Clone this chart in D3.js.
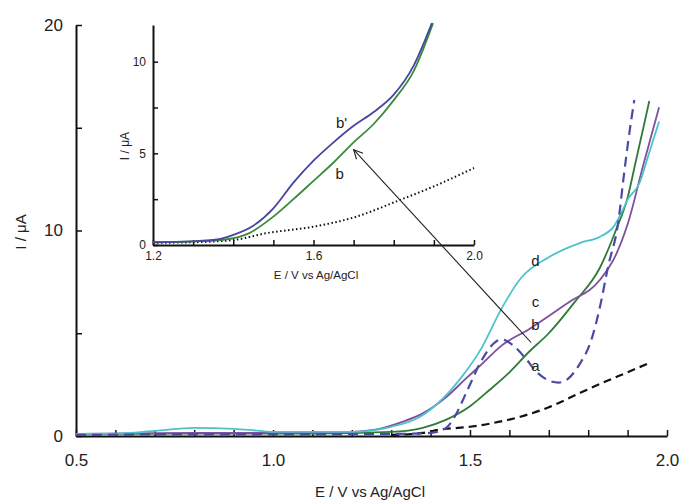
<!DOCTYPE html>
<html>
<head>
<meta charset="utf-8">
<script src="https://cdn.jsdelivr.net/npm/d3@7"></script>
<style>
  body { margin: 0; background: #fff; }
  svg { font-family: "Liberation Sans", Arial, sans-serif; }
</style>
</head>
<body>
<div id="chart"></div>
<script>
// main plot: [E (V), I (uA)]
const curveA = [[1.30,0.05],[1.38,0.15],[1.42,0.3],[1.5,0.45],[1.55,0.6],[1.63,0.95],[1.7,1.4],[1.78,2.1],[1.85,2.7],[1.9,3.1],[1.96,3.6]];
const curveBlueDash = [[0.5,0.05],[0.8,0.08],[1.1,0.08],[1.3,0.1],[1.4,0.15],[1.44,0.4],[1.46,0.9],[1.495,2.3],[1.53,3.7],[1.56,4.5],[1.58,4.7],[1.61,4.4],[1.64,3.8],[1.67,3.1],[1.7,2.7],[1.725,2.6],[1.75,2.8],[1.775,3.4],[1.81,4.8],[1.83,6.3],[1.85,8.2],[1.877,10.5],[1.89,12.6],[1.902,14.4],[1.917,16.35]];
const curveB = [[0.5,0.1],[0.8,0.12],[1.1,0.12],[1.3,0.2],[1.38,0.4],[1.44,0.8],[1.5,1.45],[1.55,2.25],[1.6,3.1],[1.65,4.1],[1.7,5.0],[1.765,6.5],[1.83,8.2],[1.87,10.0],[1.9,11.6],[1.92,13.3],[1.94,15.0],[1.955,16.3]];
const curveC = [[0.5,0.1],[0.8,0.15],[1.1,0.15],[1.2,0.2],[1.27,0.35],[1.33,0.7],[1.38,1.1],[1.44,1.9],[1.49,2.8],[1.53,3.5],[1.58,4.4],[1.65,5.2],[1.75,6.5],[1.83,7.6],[1.87,8.8],[1.9,10.3],[1.94,13.2],[1.98,16.0]];
const curveD = [[0.5,0.1],[0.6,0.12],[0.7,0.25],[0.8,0.4],[0.9,0.35],[0.95,0.28],[1.0,0.2],[1.2,0.2],[1.3,0.45],[1.37,0.9],[1.43,1.8],[1.48,2.9],[1.53,4.3],[1.58,6.2],[1.63,7.7],[1.7,8.7],[1.78,9.4],[1.83,9.7],[1.865,10.2],[1.885,10.9],[1.9,11.5],[1.93,12.3],[1.955,13.8],[1.98,15.3]];

// inset: [E (V), I (uA)]
const insetBPrime = [[1.2,0.15],[1.3,0.2],[1.36,0.3],[1.4,0.55],[1.45,1.05],[1.5,2.0],[1.55,3.4],[1.6,4.6],[1.65,5.6],[1.7,6.5],[1.75,7.25],[1.8,8.2],[1.85,9.8],[1.895,12.1]];
const insetB = [[1.2,0.15],[1.3,0.2],[1.38,0.3],[1.44,0.65],[1.5,1.55],[1.55,2.5],[1.6,3.5],[1.65,4.5],[1.7,5.6],[1.75,6.6],[1.8,7.9],[1.85,9.5],[1.898,12.1]];
const insetBlank = [[1.2,0.12],[1.3,0.15],[1.4,0.27],[1.484,0.65],[1.6,1.0],[1.7,1.5],[1.816,2.46],[1.9,3.2],[2.0,4.2]];

const mainXTicks = [0.5,0.6,0.7,0.8,0.9,1.0,1.1,1.2,1.3,1.4,1.5,1.6,1.7,1.8,1.9,2.0];
const mainXLabels = [0.5,1.0,1.5,2.0];
const mainYTicks = [0,5,10,15,20];
const mainYLabels = [0,10,20];
const insetXTicks = [1.2,1.3,1.4,1.5,1.6,1.7,1.8,1.9,2.0];
const insetXLabels = [1.2,1.6,2.0];
const insetYTicks = [0,2.5,5,7.5,10];
const insetYLabels = [0,5,10];

const width = 683, height = 504;
const svg = d3.select("#chart").append("svg")
  .attr("width", width).attr("height", height);

const x = d3.scaleLinear().domain([0.5, 2.0]).range([76, 667]);
const y = d3.scaleLinear().domain([0, 20]).range([436, 25]);
const xi = d3.scaleLinear().domain([1.2, 2.0]).range([153, 474]);
const yi = d3.scaleLinear().domain([0, 12]).range([245, 25]);

function styleAxis(g, size) {
  g.select(".domain").attr("stroke", "#111").attr("stroke-width", 2);
  g.selectAll(".tick line").attr("stroke", "#111").attr("stroke-width", 1.5);
  g.selectAll("text").attr("fill", "#222").attr("font-size", size);
}

// main axes
svg.append("g")
  .attr("transform", "translate(0,436)")
  .call(d3.axisBottom(x).tickValues(mainXTicks).tickSizeInner(-6).tickSizeOuter(0).tickPadding(18)
    .tickFormat(d => mainXLabels.some(v => Math.abs(v - d) < 1e-9) ? d3.format(".1f")(d) : ""))
  .call(g => styleAxis(g, 17));

svg.append("g")
  .attr("transform", "translate(76,0)")
  .call(d3.axisLeft(y).tickValues(mainYTicks).tickSizeInner(-6).tickSizeOuter(0).tickPadding(13)
    .tickFormat(d => mainYLabels.includes(d) ? d : ""))
  .call(g => styleAxis(g, 17));

svg.append("text")
  .attr("x", 370).attr("y", 493)
  .attr("text-anchor", "middle").attr("dominant-baseline", "middle")
  .attr("font-size", 15).attr("fill", "#222")
  .text("E / V vs Ag/AgCl");

svg.append("text")
  .attr("transform", "translate(22,232) rotate(-90)")
  .attr("text-anchor", "middle").attr("dominant-baseline", "middle")
  .attr("font-size", 15).attr("fill", "#222")
  .text("I / μA");

const line = d3.line().x(d => x(d[0])).y(d => y(d[1])).curve(d3.curveMonotoneX);
const linei = d3.line().x(d => xi(d[0])).y(d => yi(d[1])).curve(d3.curveMonotoneX);

const mainSeries = [
  { data: curveA, color: "#111", width: 2.2, dash: "8,5" },
  { data: curveB, color: "#2f7a38", width: 1.8, dash: null },
  { data: curveC, color: "#7d4f9e", width: 1.8, dash: null },
  { data: curveD, color: "#4cc3c9", width: 1.8, dash: null },
  { data: curveBlueDash, color: "#4a4aa6", width: 2.2, dash: "10,6" }
];

svg.append("g").selectAll("path")
  .data(mainSeries)
  .join("path")
  .attr("d", d => line(d.data))
  .attr("fill", "none")
  .attr("stroke", d => d.color)
  .attr("stroke-width", d => d.width)
  .attr("stroke-dasharray", d => d.dash);

// curve labels
const mainLabels = [
  { t: "a", e: 1.666, i: 3.35 },
  { t: "b", e: 1.666, i: 5.35 },
  { t: "c", e: 1.666, i: 6.45 },
  { t: "d", e: 1.666, i: 8.45 }
];
svg.append("g").selectAll("text")
  .data(mainLabels)
  .join("text")
  .attr("x", d => x(d.e)).attr("y", d => y(d.i))
  .attr("text-anchor", "middle").attr("dominant-baseline", "middle")
  .attr("font-size", 15).attr("fill", "#222")
  .text(d => d.t);

// inset axes
svg.append("g")
  .attr("transform", "translate(0,245)")
  .call(d3.axisBottom(xi).tickValues(insetXTicks).tickSizeInner(-5).tickSizeOuter(0).tickPadding(6)
    .tickFormat(d => insetXLabels.some(v => Math.abs(v - d) < 1e-9) ? d3.format(".1f")(d) : ""))
  .call(g => styleAxis(g, 12));

svg.append("g")
  .attr("transform", "translate(153,0)")
  .call(d3.axisLeft(yi).tickValues(insetYTicks).tickSizeInner(-5).tickSizeOuter(0).tickPadding(7)
    .tickFormat(d => insetYLabels.includes(d) ? d : ""))
  .call(g => styleAxis(g, 12));

svg.append("text")
  .attr("x", 316).attr("y", 276)
  .attr("text-anchor", "middle").attr("dominant-baseline", "middle")
  .attr("font-size", 11.5).attr("fill", "#222")
  .text("E / V vs Ag/AgCl");

svg.append("text")
  .attr("transform", "translate(126,146) rotate(-90)")
  .attr("text-anchor", "middle").attr("dominant-baseline", "middle")
  .attr("font-size", 12).attr("fill", "#222")
  .text("I / μA");

const insetSeries = [
  { data: insetBlank, color: "#111", width: 2, dash: "1.5,2.5" },
  { data: insetB, color: "#3a8a3a", width: 1.8, dash: null },
  { data: insetBPrime, color: "#4646a0", width: 1.8, dash: null }
];
svg.append("g").selectAll("path")
  .data(insetSeries)
  .join("path")
  .attr("d", d => linei(d.data))
  .attr("fill", "none")
  .attr("stroke", d => d.color)
  .attr("stroke-width", d => d.width)
  .attr("stroke-dasharray", d => d.dash);

const insetLabels = [
  { t: "b'", e: 1.67, i: 6.6 },
  { t: "b", e: 1.665, i: 3.8 }
];
svg.append("g").selectAll("text")
  .data(insetLabels)
  .join("text")
  .attr("x", d => xi(d.e)).attr("y", d => yi(d.i))
  .attr("text-anchor", "middle").attr("dominant-baseline", "middle")
  .attr("font-size", 15).attr("fill", "#222")
  .text(d => d.t);

// arrow from main curve b to inset curve b
const arrowFrom = [x(1.655), y(4.55)];
const arrowTo = [xi(1.7), yi(5.2)];
svg.append("line")
  .attr("x1", arrowFrom[0]).attr("y1", arrowFrom[1])
  .attr("x2", arrowTo[0]).attr("y2", arrowTo[1])
  .attr("stroke", "#222").attr("stroke-width", 1.1);

const ang = Math.atan2(arrowFrom[1] - arrowTo[1], arrowFrom[0] - arrowTo[0]);
const headLen = 10, spread = 0.45;
svg.append("path")
  .attr("d", d3.line()([
    [arrowTo[0] + headLen * Math.cos(ang - spread), arrowTo[1] + headLen * Math.sin(ang - spread)],
    arrowTo,
    [arrowTo[0] + headLen * Math.cos(ang + spread), arrowTo[1] + headLen * Math.sin(ang + spread)]
  ]))
  .attr("fill", "none").attr("stroke", "#222").attr("stroke-width", 1.1);
</script>
</body>
</html>
